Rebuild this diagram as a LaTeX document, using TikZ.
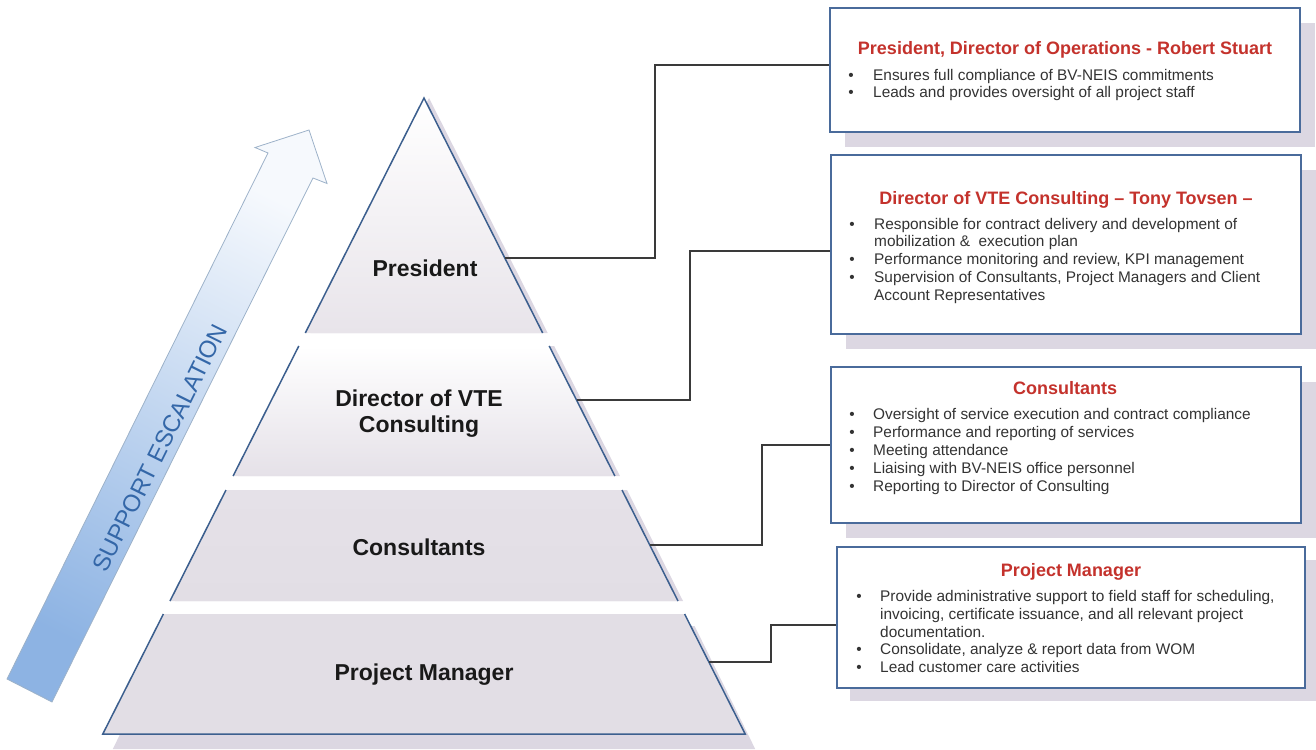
\documentclass[tikz,border=0pt]{standalone}
\usepackage{fontspec}
\setmainfont{Liberation Sans}
\definecolor{edgeblue}{HTML}{3C5F8E}
\definecolor{boxblue}{HTML}{4A6B9B}
\definecolor{titlered}{HTML}{C4322C}
\definecolor{bultext}{HTML}{333333}
\definecolor{shadowc}{HTML}{DCD7E2}
\definecolor{tierA}{HTML}{E8E4EA}
\definecolor{tierB}{HTML}{E5E1E8}
\definecolor{tierC}{HTML}{E2DEE5}
\definecolor{arrowblue}{HTML}{8DB3E3}
\definecolor{arrowmid}{HTML}{C4D9F0}
\definecolor{arrowtop}{HTML}{F6F9FD}
\definecolor{arrowline}{HTML}{9DB2C9}
\definecolor{esctext}{HTML}{3467A8}
\definecolor{conn}{HTML}{3A3A3A}
\begin{document}
\begin{tikzpicture}[x=1pt,y=-1pt,
  edge/.style={draw=edgeblue,line width=1.5pt,line join=miter},
  infobox/.style={draw=boxblue,line width=1.6pt,fill=white,inner sep=0pt},
  boxshadow/.style={fill=shadowc},
  tierlabel/.style={font=\fontsize{23}{26}\selectfont\bfseries,text=black!90,align=center,inner sep=0pt},
  boxtitle/.style={anchor=base,font=\fontsize{18}{21}\selectfont\bfseries,text=titlered,inner sep=0pt},
  bul/.style={anchor=base west,font=\fontsize{15.4}{17.8}\selectfont,text=bultext,inner sep=0pt},
  dot/.style={anchor=base,font=\fontsize{15.4}{17.8}\selectfont,text=bultext,inner sep=0pt},
  connector/.style={draw=conn,line width=1.2pt}]
\useasboundingbox (0,0) rectangle (1316,749);

% ---------- support escalation arrow ----------
\shade[top color=arrowtop,middle color=arrowmid,bottom color=arrowblue,shading angle=-26.4,draw=arrowline,line width=0.8pt]
  (7,679) -- (268,153) -- (255,147.5) -- (309,130) -- (327,183.5) -- (313,178) -- (52,702) -- cycle;
\node[rotate=63.6,font=\fontsize{24}{26}\selectfont,text=esctext,inner sep=0pt] (esc) at (160,448) {SUPPORT ESCALATION};

% ---------- pyramid shadow ----------
\begin{scope}[shift={(5,0)}]
\fill[shadowc] (305.3,333) -- (424,98) -- (542.7,333) -- cycle;
\fill[shadowc] (298.8,346) -- (549.2,346) -- (614.9,476) -- (233.1,476) -- cycle;
\fill[shadowc] (226,490) -- (622,490) -- (678,601) -- (170,601) -- cycle;
\end{scope}
\fill[shadowc] (173.4,626) -- (694.6,626) -- (755.2,749) -- (112.8,749) -- cycle;

% ---------- pyramid tiers ----------
\shade[top color=white,middle color=white!75!tierA,bottom color=tierA] (305.3,333) -- (424,98) -- (542.7,333) -- cycle;
\shade[top color=white,bottom color=tierB] (298.8,346) -- (549.2,346) -- (614.9,476) -- (233.1,476) -- cycle;
\shade[top color=tierB,bottom color=tierC] (226,490) -- (622,490) -- (678,601) -- (170,601) -- cycle;
\fill[tierC] (163.4,614) -- (684.6,614) -- (745.2,734) -- (102.8,734) -- cycle;

\draw[edge] (305.3,333) -- (424,98) -- (542.7,333);
\draw[edge] (298.8,346) -- (233.1,476);
\draw[edge] (549.2,346) -- (614.9,476);
\draw[edge] (226,490) -- (170,601);
\draw[edge] (622,490) -- (678,601);
\draw[edge] (163.4,614) -- (102.8,734) -- (745.2,734) -- (684.6,614);

\node[tierlabel] (tP) at (425,268) {President};
\node[tierlabel] (tD) at (419,414) {Director of VTE\\Consulting};
\node[tierlabel] (tC) at (419,547) {Consultants};
\node[tierlabel] (tM) at (424,675) {Project Manager};

% attachment points on the pyramid edge
\coordinate (eP) at (504.8,258);
\coordinate (eD) at (576.5,400);
\coordinate (eC) at (649.7,545);
\coordinate (eM) at (708.8,662);

% ---------- boxes ----------
\fill[boxshadow] (845,23) rectangle (1315,147);
\fill[boxshadow] (846,170) rectangle (1316,349);
\fill[boxshadow] (846,382) rectangle (1316,538);
\fill[boxshadow] (850,560) rectangle (1316,701);

\node[infobox,minimum width=470pt,minimum height=124pt] (bP) at (1065,70) {};
\node[infobox,minimum width=470pt,minimum height=179pt] (bD) at (1066,244.5) {};
\node[infobox,minimum width=470pt,minimum height=156pt] (bC) at (1066,445) {};
\node[infobox,minimum width=468pt,minimum height=141pt] (bM) at (1071,617.5) {};

% ---------- connectors ----------
\draw[connector] (eP) -- (655,258) |- ([yshift=5pt]bP.west);
\draw[connector] (eD) -- (690,400) |- ([yshift=-6.5pt]bD.west);
\draw[connector] (eC) -- (762,545) |- (bC.west);
\draw[connector] (eM) -- (771,662) |- ([yshift=-7.5pt]bM.west);

% ---------- President box text ----------
\node[boxtitle] (hP) at (1065,55) {President, Director of Operations - Robert Stuart};
\node[dot] (dP1) at (851,81) {\textbullet};
\node[bul] (lP1) at (873,81) {Ensures full compliance of BV-NEIS commitments};
\node[dot] (dP2) at (851,98) {\textbullet};
\node[bul] (lP2) at (873,98) {Leads and provides oversight of all project staff};

% ---------- Director box text ----------
\node[boxtitle] (hD) at (1066,204) {Director of VTE Consulting – Tony Tovsen –};
\node[dot] (dD1) at (852,229) {\textbullet};
\node[bul] (lD1) at (874,229) {Responsible for contract delivery and development of};
\node[bul] (lD1b) at (874,246.5) {mobilization \&\ \ execution plan};
\node[dot] (dD2) at (852,264) {\textbullet};
\node[bul] (lD2) at (874,264) {Performance monitoring and review, KPI management};
\node[dot] (dD3) at (852,282) {\textbullet};
\node[bul] (lD3) at (874,282) {Supervision of Consultants, Project Managers and Client};
\node[bul] (lD3b) at (874,300) {Account Representatives};

% ---------- Consultants box text ----------
\node[boxtitle] (hC) at (1065,394) {Consultants};
\node[dot] (dC1) at (852,419) {\textbullet};
\node[bul] (lC1) at (873,419) {Oversight of service execution and contract compliance};
\node[dot] (dC2) at (852,437) {\textbullet};
\node[bul] (lC2) at (873,437) {Performance and reporting of services};
\node[dot] (dC3) at (852,455) {\textbullet};
\node[bul] (lC3) at (873,455) {Meeting attendance};
\node[dot] (dC4) at (852,473) {\textbullet};
\node[bul] (lC4) at (873,473) {Liaising with BV-NEIS office personnel};
\node[dot] (dC5) at (852,491) {\textbullet};
\node[bul] (lC5) at (873,491) {Reporting to Director of Consulting};

% ---------- Project Manager box text ----------
\node[boxtitle] (hM) at (1071,576) {Project Manager};
\node[dot] (dM1) at (859,601) {\textbullet};
\node[bul] (lM1) at (880,601) {Provide administrative support to field staff for scheduling,};
\node[bul] (lM1b) at (880,619) {invoicing, certificate issuance, and all relevant project};
\node[bul] (lM1c) at (880,637) {documentation.};
\node[dot] (dM2) at (859,654) {\textbullet};
\node[bul] (lM2) at (880,654) {Consolidate, analyze \& report data from WOM};
\node[dot] (dM3) at (859,672) {\textbullet};
\node[bul] (lM3) at (880,672) {Lead customer care activities};
\end{tikzpicture}
\end{document}
